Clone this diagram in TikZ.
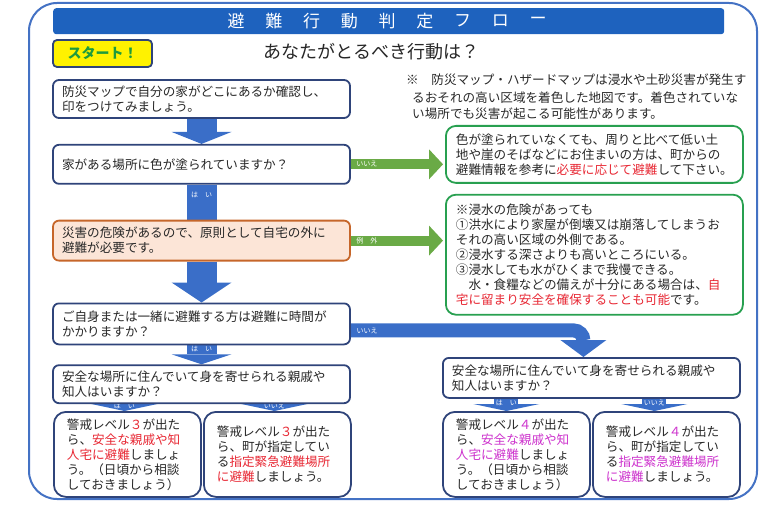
\documentclass[tikz,border=0pt]{standalone}
\usepackage{fontspec}
\setmainfont{Noto Sans CJK JP}
\usepackage{xcolor}
\usepackage{tikz}
\usetikzlibrary{arrows.meta,positioning,calc,backgrounds}

\definecolor{framecol}{RGB}{68,114,196}
\definecolor{barblue}{RGB}{30,98,190}
\definecolor{navyline}{RGB}{47,68,122}
\definecolor{flowblue}{RGB}{58,110,200}
\definecolor{flowgreen}{RGB}{106,170,70}
\definecolor{boxgreen}{RGB}{40,160,80}
\definecolor{orangeline}{RGB}{198,102,42}
\definecolor{orangefill}{RGB}{252,229,215}
\definecolor{startgreen}{RGB}{30,155,60}
\definecolor{txtgray}{RGB}{40,40,40}
\definecolor{hred}{RGB}{232,40,52}
\definecolor{hmag}{RGB}{205,50,205}

\newcommand{\bodyfont}{\fontsize{12.6}{15}\selectfont}
\newcommand{\redtxt}[1]{\textcolor{hred}{#1}}
\newcommand{\magtxt}[1]{\textcolor{hmag}{#1}}

\begin{document}
\begin{tikzpicture}[
  x=1pt, y=1pt,
  every node/.style={font=\bodyfont, text=txtgray},
  qbox/.style={draw=navyline, line width=1.8, fill=white, rounded corners=6,
    minimum width=297, text width=279, inner xsep=9, inner ysep=0, align=left},
  obox/.style={qbox, draw=orangeline, fill=orangefill},
  gbox/.style={draw=boxgreen, line width=1.8, fill=white, rounded corners=10,
    text width=277, inner xsep=10, inner ysep=0, align=left},
  lbox/.style={draw=navyline, line width=1.8, fill=white, rounded corners=12,
    minimum width=147, minimum height=85, text width=121, inner xsep=13,
    inner ysep=0, align=left, anchor=north west},
  bigarrow/.style={line width=30, flowblue},
  greenarrow/.style={line width=10, flowgreen, shorten >=2pt,
    -{Triangle[length=14pt,width=30pt,line width=0pt]}},
  smallarrow/.style={line width=24, flowblue,
    -{Triangle[length=7pt,width=66pt,line width=0pt]}},
  arrowlabel/.style={text=white, font=\fontsize{7}{7}\selectfont, inner sep=0},
]
\useasboundingbox (0,0) rectangle (781,-505);

% outer frame
\draw[framecol, line width=2, rounded corners=28] (29,-3) rectangle (757,-499);

% title bar
\node[fill=barblue, rounded corners=3, minimum width=671, minimum height=26,
  inner sep=0, anchor=north west] (tbar) at (53,-8) {};
\foreach \c [count=\i from 0] in {避,難,行,動,判,定,フ,ロ,ー}
  \node[text=white, font=\fontsize{17}{17}\selectfont] (ttl\i) at (236+37.75*\i,-21) {\c};

% start and question
\node[draw=navyline, line width=1.8, fill=yellow, rounded corners=4,
  minimum width=99, minimum height=27, text=startgreen,
  font=\fontsize{14}{14}\selectfont\bfseries] (start) at (102.5,-53.5) {スタート！};
\node[font=\fontsize{18}{18}\selectfont, text=black!85] (ask) at (371.5,-52)
  {あなたがとるべき行動は？};

% note
\node[anchor=west, inner sep=0] (note1) at (406,-80)
  {※　防災マップ・ハザードマップは浸水や土砂災害が発生す};
\node[anchor=west, inner sep=0] (note2) at (412,-97.5)
  {るおそれの高い区域を着色した地図です。着色されていな};
\node[anchor=west, inner sep=0] (note3) at (412,-114)
  {い場所でも災害が起こる可能性があります。};

% left column
\node[qbox, minimum height=38] (q1) at (201.5,-99)
  {防災マップで自分の家がどこにあるか確認し、\\印をつけてみましょう。};
\node[qbox, minimum height=39, below=25pt of q1] (q2)
  {家がある場所に色が塗られていますか？};
\node[obox, minimum height=40, below=35pt of q2] (q3)
  {災害の危険があるので、原則として自宅の外に\\避難が必要です。};
\node[qbox, minimum height=41, below=41pt of q3] (q4)
  {ご自身または一緒に避難する方は避難に時間が\\かかりますか？};
\node[qbox, minimum height=38, below=19pt of q4] (q5l)
  {安全な場所に住んでいて身を寄せられる親戚や\\知人はいますか？};

% right column
\node[gbox, minimum width=297, minimum height=57, anchor=north west] (g1) at (445,-125)
  {色が塗られていなくても、周りと比べて低い土\\
   地や崖のそばなどにお住まいの方は、町からの\\
   避難情報を参考に\redtxt{必要に応じて避難}して下さい。};
\node[gbox, minimum width=297, minimum height=120, below=10pt of g1.south west,
  anchor=north west] (g2)
  {※浸水の危険があっても\\
   ①洪水により家屋が倒壊又は崩落してしまうお\\
   それの高い区域の外側である。\\
   ②浸水する深さよりも高いところにいる。\\
   ③浸水しても水がひくまで我慢できる。\\
   　水・食糧などの備えが十分にある場合は、\redtxt{自}\\
   \redtxt{宅に留まり安全を確保することも可能}です。};
\node[qbox, minimum height=40, anchor=north west] (q5r) at (442,-357)
  {安全な場所に住んでいて身を寄せられる親戚や\\知人はいますか？};

% bottom row
\node[lbox] (r3a) at (53,-411)
  {警戒レベル\redtxt{３}が出た\\ら、\redtxt{安全な親戚や知}\\\redtxt{人宅に避難}しましょ\\う。（日頃から相談\\しておきましょう）};
\node[lbox] (r3b) at (203,-411)
  {警戒レベル\redtxt{３}が出た\\ら、町が指定してい\\る\redtxt{指定緊急避難場所}\\\redtxt{に避難}しましょう。};
\node[lbox] (r4a) at (442,-411)
  {警戒レベル\magtxt{４}が出た\\ら、\magtxt{安全な親戚や知}\\\magtxt{人宅に避難}しましょ\\う。（日頃から相談\\しておきましょう）};
\node[lbox] (r4b) at (592,-411)
  {警戒レベル\magtxt{４}が出た\\ら、町が指定してい\\る\magtxt{指定緊急避難場所}\\\magtxt{に避難}しましょう。};

% arrows
\begin{scope}[on background layer]
\draw[bigarrow, -{Triangle[length=12pt,width=60pt,line width=0pt]}] (q1.south) -- (q2.north);
\draw[bigarrow] (q2.south) -- (q3.north) node[arrowlabel, pos=0.3] {は　い};
\draw[bigarrow, -{Triangle[length=20pt,width=60pt,line width=0pt]}] (q3.south) -- (q4.north);
\draw[bigarrow, -{Triangle[length=10pt,width=60pt,line width=0pt]}] (q4.south) -- (q5l.north)
  node[arrowlabel, pos=0.18] {は　い};
\draw[line width=14, flowblue, rounded corners=10,
  -{Triangle[length=17pt,width=46pt,line width=0pt]}]
  ($(q4.east)+(0,-6.5)$) -| ($(q5r.north)+(-8,0)$) node[arrowlabel, pos=0.035] {いいえ};

\draw[greenarrow] (q2.east) -- (q2.east -| g1.west) node[arrowlabel, pos=0.17] {いいえ};
\draw[greenarrow] (q3.east) -- (q3.east -| g2.west) node[arrowlabel, pos=0.17] {例　外};

\draw[smallarrow] ($(q5l.south -| r3a.north)+(-3,0)$) -- ($(r3a.north)+(-3,0)$)
  node[arrowlabel, pos=0.33] {は　い};
\draw[smallarrow] ($(q5l.south -| r3b.north)+(-3,0)$) -- ($(r3b.north)+(-3,0)$)
  node[arrowlabel, pos=0.33] {いいえ};
\draw[smallarrow] ($(q5r.south -| r4a.north)+(-10,0)$) -- ($(r4a.north)+(-10,0)$)
  node[arrowlabel, pos=0.33] {は　い};
\draw[smallarrow] ($(q5r.south -| r4b.north)+(-12,0)$) -- ($(r4b.north)+(-12,0)$)
  node[arrowlabel, pos=0.33] {いいえ};
\end{scope}
\end{tikzpicture}
\end{document}
